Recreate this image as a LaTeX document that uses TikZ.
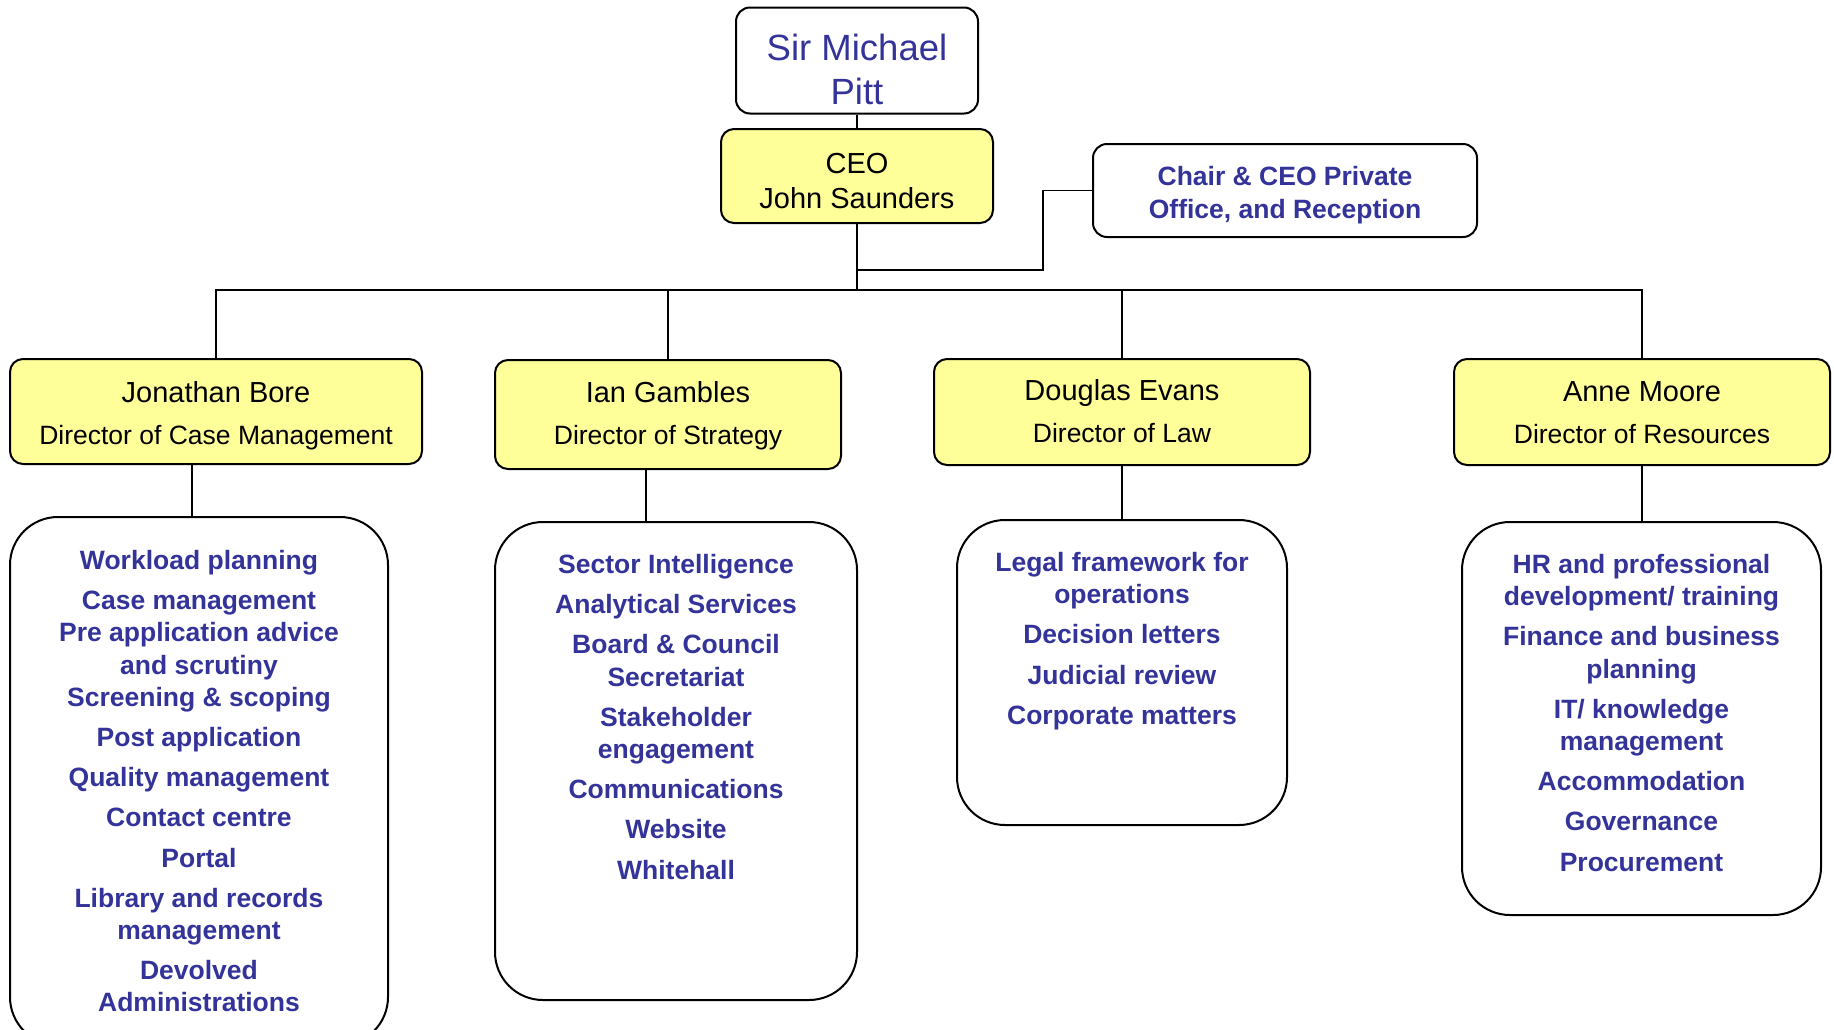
\documentclass[tikz,border=0pt]{standalone}
\usepackage{fontspec}
\setmainfont{Liberation Sans}
\usepackage{tikz}
\usetikzlibrary{arrows}
\definecolor{staffblue}{RGB}{51,51,153}
\definecolor{postyellow}{RGB}{255,255,153}

\begin{document}
\begin{tikzpicture}[x=1pt, y=-1pt]
    \tikzset{chair/.style = {shape=rectangle, draw, line width=2pt, rounded corners=14pt, fill=white, align=center, inner sep=0pt}}
    \tikzset{post/.style = {shape=rectangle, draw, line width=2pt, rounded corners=13pt, fill=postyellow, align=center, inner sep=0pt, text height=66pt, text depth=0pt, font=\fontsize{26.5}{42}\selectfont}}
    \tikzset{team/.style = {shape=rectangle, draw, line width=2pt, rounded corners=48pt, fill=white, inner sep=0pt}}
    \tikzset{duties/.style = {text=staffblue, align=center, inner sep=0pt, anchor=north, yshift=-33pt, font=\fontsize{26.5}{32.2}\selectfont\bfseries}}
    \tikzset{link/.style = {draw, line width=1.8pt, -}}

    \useasboundingbox (0,0) rectangle (1834,1029);

    % heads
    \node[chair, minimum width=242pt, minimum height=106pt, text height=87pt, text depth=0pt, text=staffblue, font=\fontsize{36.5}{44}\selectfont] (pitt) at (857,60.5) {Sir Michael\\Pitt};
    \node[post, minimum width=272pt, minimum height=94pt, text height=65pt, font=\fontsize{29}{35}\selectfont] (ceo) at (857,176) {CEO\\John Saunders};
    \node[chair, minimum width=384pt, minimum height=93pt, text height=56pt, text depth=0pt, text=staffblue, font=\fontsize{26.5}{33}\selectfont\bfseries] (office) at (1285,190.5) {Chair \& CEO Private\\Office, and Reception};

    % directors
    \node[post, minimum width=412pt, minimum height=105pt] (bore) at (216,411.5) {{\fontsize{29}{42}\selectfont Jonathan Bore}\\Director of Case Management};
    \node[post, minimum width=346pt, minimum height=109pt, text height=60pt] (gambles) at (668,414.5) {{\fontsize{29}{42}\selectfont Ian Gambles}\\Director of Strategy};
    \node[post, minimum width=376pt, minimum height=106pt, text height=61.5pt] (evans) at (1122,412) {{\fontsize{29}{42}\selectfont Douglas Evans}\\Director of Law};
    \node[post, minimum width=376pt, minimum height=106pt, text height=62.5pt] (moore) at (1642,412) {{\fontsize{29}{42}\selectfont Anne Moore}\\Director of Resources};

    % teams
    \node[team, minimum width=378pt, minimum height=528pt] (boreteam) at (199,781) {};
    \node[team, minimum width=362pt, minimum height=478pt] (gamblesteam) at (676,761) {};
    \node[team, minimum width=330pt, minimum height=305pt] (evansteam) at (1122,672.5) {};
    \node[team, minimum width=359pt, minimum height=393pt] (mooreteam) at (1641.5,718.5) {};

    \node[duties, yshift=-1pt] (borelist) at (boreteam.north) {Workload planning\\[8pt]Case management\\Pre application advice\\and scrutiny\\Screening \& scoping\\[8pt]Post application\\[8pt]Quality management\\[8pt]Contact centre\\[8pt]Portal\\[8pt]Library and records\\management\\[8pt]Devolved\\Administrations};
    \node[duties] (gambleslist) at (gamblesteam.north) {Sector Intelligence\\[8pt]Analytical Services\\[8pt]Board \& Council\\Secretariat\\[8pt]Stakeholder\\engagement\\[8pt]Communications\\[8pt]Website\\[8pt]Whitehall};
    \node[duties] (evanslist) at (evansteam.north) {Legal framework for\\operations\\[8pt]Decision letters\\[8pt]Judicial review\\[8pt]Corporate matters};
    \node[duties] (moorelist) at (mooreteam.north) {HR and professional\\development/ training\\[8pt]Finance and business\\planning\\[8pt]IT/ knowledge\\management\\[8pt]Accommodation\\[8pt]Governance\\[8pt]Procurement};

    % lines
    \coordinate (hub) at (857,290);
    \draw[link] (pitt) -- (ceo);
    \draw[link, line width=2.4pt] (ceo) -- (hub);
    \draw[link] (857,270) -| (1043,190.5) -- (office.west);
    \draw[link] (bore.north) |- (hub) -| (moore.north);
    \draw[link] (gambles.north) -- (gambles.north |- hub);
    \draw[link] (evans.north) -- (evans.north |- hub);
    \draw[link] (192,464) -- (boreteam.north -| 192,0);
    \draw[link] (646,469) -- (gamblesteam.north -| 646,0);
    \draw[link] (evans) -- (evansteam);
    \draw[link] (moore.south) -- (moore.south |- mooreteam.north);
\end{tikzpicture}
\end{document}
